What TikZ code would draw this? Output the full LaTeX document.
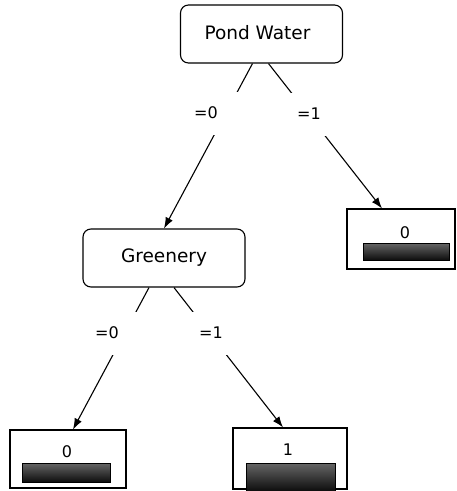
\documentclass[tikz,border=0pt]{standalone}
\usepackage{fontspec}
\setmainfont{DejaVu Sans}
\usetikzlibrary{arrows.meta}

\begin{document}
\begin{tikzpicture}[x=1pt, y=-1pt, line width=1.1pt,
    attr/.style = {draw, rounded corners=8pt, minimum width=162pt, minimum height=58pt, font=\fontsize{18.5}{20}\selectfont},
    leaf/.style = {draw, minimum width=#1, minimum height=60pt},
    bar/.style = {draw, line width=0.8pt, top color=black!60, middle color=black!85, bottom color=black!95},
    val/.style = {font=\fontsize{16}{18}\selectfont},
    cond/.style = {fill=white, minimum width=66pt, minimum height=43pt, inner sep=0pt, font=\fontsize{16}{18}\selectfont}]
            \useasboundingbox (0,0) rectangle (457,491);
            \node[attr] (1) at (261.5,34) {\raisebox{3pt}{Pond Water}\hspace*{8pt}};
            \node[attr] (2) at (164,258) {\raisebox{4pt}{Greenery}};
            % leaves
            \node[leaf=108pt] (3) at (401,239) {};
            \node[leaf=116pt, minimum height=58pt] (4) at (68,459) {};
            \node[leaf=114pt, minimum height=61pt] (5) at (290,458.5) {};
            \node[val] (v3) at (405,233) {0};
            \node[val] (v4) at (67,452) {0};
            \node[val] (v5) at (288,450) {1};
            \node[bar, minimum width=86pt, minimum height=17pt] (b3) at (406,251.5) {};
            \node[bar, minimum width=88pt, minimum height=19pt] (b4) at (66,472.5) {};
            \node[bar, minimum width=89pt, minimum height=28pt] (b5) at (290.5,477) {};
            \path[-{Latex[length=11pt,width=8pt]}]
            ([xshift=-9pt]1.south) edge (2.north)
            ([xshift=7pt]1.south) edge ([xshift=-19pt]3.north)
            ([xshift=-15pt]2.south) edge ([xshift=5pt]4.north)
            ([xshift=10pt]2.south) edge ([xshift=-7pt]5.north);
            % branch values
            \node[cond] (c1) at (206,113) {=0};
            \node[cond] (c2) at (309,114) {=1};
            \node[cond] (c3) at (107,333) {=0};
            \node[cond] (c4) at (211,333) {=1};
        \end{tikzpicture}
\end{document}
